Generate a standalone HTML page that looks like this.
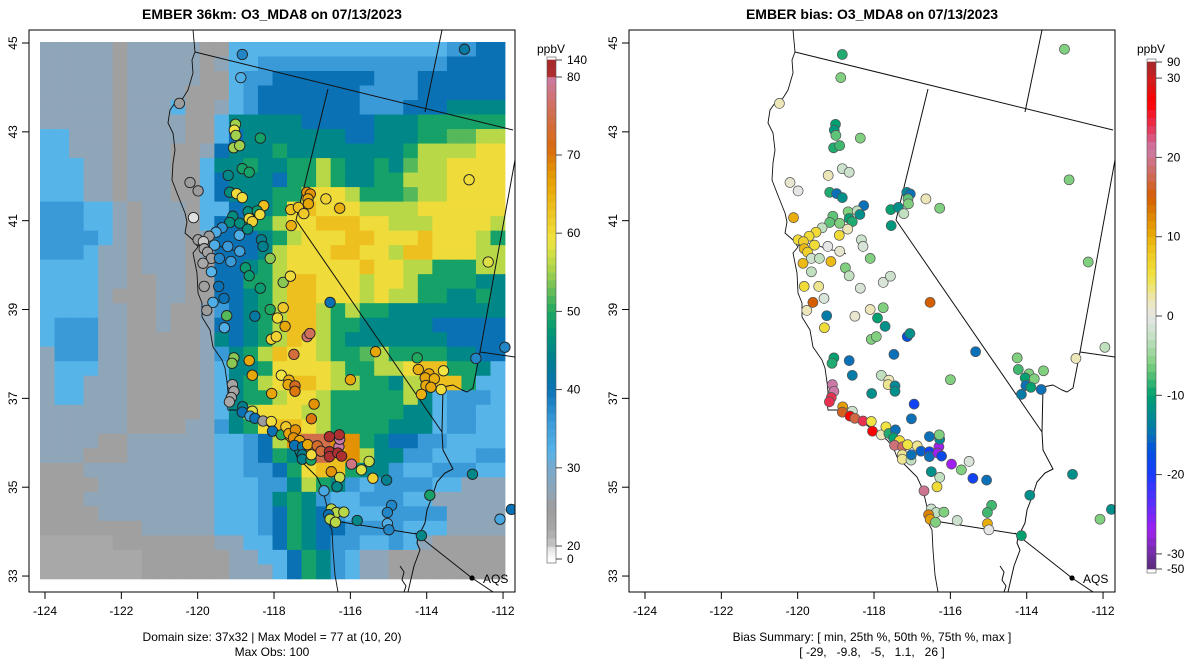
<!DOCTYPE html>
<html><head><meta charset="utf-8"><title>EMBER O3_MDA8</title>
<style>
html,body{margin:0;padding:0;background:#fff;}
svg{display:block;font-family:"Liberation Sans",Arial,sans-serif;}
</style></head>
<body>
<svg id="fig" width="1200" height="672" viewBox="0 0 1200 672" xmlns="http://www.w3.org/2000/svg">
<defs>
<clipPath id="clipL"><rect x="29" y="30" width="486" height="562"/></clipPath>
<clipPath id="clipR"><rect x="629" y="30" width="486" height="562"/></clipPath>
</defs>
<g id="left"></g>
<g id="right"></g>
</svg>
<script>
// ---------- data ----------
const codeValues = {w:22,g:24,h:27,b:32,c:36,d:40,t:45,G:49,m:52,l:56,y:60,Y:63,o:68,p:75};
const gridRows = [
"hhhhhghhhhhggbbbbbbbbbbbbbbbccdd",
"hhhhhghhhhhghbbcccccccccccccdddd",
"hhhhhghhhhhggbccdddddddcccdddddd",
"hhhhhghhhhgggbcdddddddccccdddddd",
"hhhhhghhhbgghbcdddddddcccdddtttt",
"hhhhhghhhhggbtttttdddddtttGGGGGG",
"bbhhhghhhhggbdtttttttddtttGGmmll",
"bbhhhghhhgghdtttGttttttttGllllyy",
"bbbhhghhhggbttGttGGlGttGtmllyyyy",
"bbbhhghhhggbdtttdGGlGttGGlllyyyy",
"bbbhhghhhggbdtttGGyyylGGGmllyyyy",
"cccbbhghhhgbbdttGyYyyyllllyyyyyy",
"cccbbhghhhgbddGGlyyYYYyylllyyyyl",
"ccccbhghhhghdddtGlyyyYYyyyYyyylG",
"cccbhhghhhghdddtlyyyYYyylYYyyyll",
"bbbbhhghhhggddtGlyyyyyYyyllGGGll",
"bbbbhhgghhggddGGlYYyyylyylGGGGtt",
"bbbbhggghhggddtGlYYyyylyllGGttGt",
"bbbbhhgghgghcdtGlYYlGlGGtttttttt",
"bccchhgghgghddtGlYYlGGtttttddddd",
"bccchhggggghtdtGlYylGtttttttdddd",
"hccchhggggghctGlYyylGGmlGGGGttdd",
"hbbbhhggggghbttGyyyylGGllyYYGGtb",
"hbbhhhggggghbtGlyYYyllGGtllYYGbb",
"hbbhhhggggghbtGGlyylGGGGGltbcccb",
"hhhhhhggggghbtlyyyllGGGGGttbccbb",
"hhhhhhgggghhctGyYYylGGGGtttbccbb",
"hhhhgghhhhhhbbcdlopPooGtddccbbbb",
"hhhggghhhhhhbbcdGtYpYoltTccbbbcc",
"ggghhhhhhhhhbbccdGyYYGttcbbcccbb",
"gggghhhhhhhhbbbcctlGtcbccccbbhhh",
"ggghhhhhhhhhbbbctGtcbbcccbbhhhhh",
"gggghhhhhhhhbbbcdGtdcbbbcccchhhh",
"ggggggghhhhhbbbcdGtddccccbbbhhhh",
"wwwwwggggggghhbbdGtdccbbcbhggggg",
"wwwwwwwgggggghhbbdGtcbhhgggggggg",
"wwwwwwwgggggghhhbdGtcbhhgggggggg"
];
const stationLon = [-118.83,-113.01,-118.87,-120.48,-119.01,-119.04,-119.00,-118.36,-119.06,-118.90,-118.83,-118.65,-119.20,-120.20,-119.99,-119.16,-118.98,-118.83,-118.27,-117.14,-117.05,-117.11,-117.10,-116.64,-116.28,-117.56,-117.36,-117.22,-117.55,-120.11,-118.68,-118.44,-118.37,-118.65,-118.57,-119.08,-119.16,-118.90,-119.36,-119.52,-119.70,-119.99,-119.85,-119.56,-119.83,-119.74,-119.21,-118.91,-118.69,-118.90,-119.64,-119.43,-119.86,-119.13,-119.64,-118.33,-118.29,-118.10,-118.75,-118.65,-119.83,-119.45,-119.31,-119.60,-119.76,-118.36,-117.76,-117.57,-116.53,-112.39,-112.89,-118.10,-117.76,-119.24,-118.50,-119.30,-117.91,-117.71,-118.07,-117.94,-117.13,-117.06,-117.48,-115.34,-119.05,-119.10,-118.65,-118.57,-117.81,-117.61,-117.63,-117.45,-117.45,-118.06,-116.00,-114.25,-114.22,-113.94,-114.04,-113.80,-113.56,-114.02,-113.89,-113.62,-114.14,-112.71,-111.95,-119.09,-119.05,-119.12,-119.17,-118.82,-118.83,-118.57,-118.63,-118.50,-118.29,-118.07,-118.04,-117.81,-117.69,-117.61,-117.44,-117.49,-117.33,-117.46,-117.25,-117.12,-117.26,-117.26,-117.03,-117.02,-116.87,-116.77,-116.55,-116.55,-116.30,-116.33,-116.23,-116.28,-116.29,-116.55,-117.02,-116.95,-115.97,-115.51,-115.71,-116.50,-116.28,-116.35,-115.41,-115.05,-116.69,-112.80,-113.92,-116.50,-116.37,-116.17,-116.57,-116.53,-116.39,-115.82,-114.92,-115.03,-115.03,-114.99,-114.14,-112.08,-111.78];
const stationLat = [44.74,44.86,44.22,43.64,43.17,43.04,42.92,42.86,42.64,42.69,42.17,42.09,42.02,41.86,41.67,41.64,41.61,41.52,41.34,41.64,41.60,41.49,41.38,41.49,41.28,41.25,41.30,41.16,40.89,41.07,41.20,41.22,41.14,41.05,40.98,41.10,40.96,40.94,40.84,40.74,40.65,40.57,40.53,40.45,40.37,40.29,40.42,40.67,40.81,40.31,40.15,40.15,40.04,40.08,39.85,40.57,40.42,40.15,39.94,39.76,39.52,39.52,39.25,39.16,38.98,39.48,39.61,39.75,39.16,40.07,41.92,39.00,39.04,38.86,38.85,38.59,38.81,38.62,38.33,38.39,38.39,38.46,37.99,38.05,37.91,37.79,37.85,37.52,37.52,37.41,37.31,37.28,37.16,37.11,37.42,37.91,37.65,37.55,37.46,37.44,37.62,37.29,37.25,37.20,37.09,37.90,38.15,37.31,37.16,37.02,36.92,36.81,36.69,36.71,36.60,36.55,36.49,36.48,36.26,36.18,36.36,36.21,36.29,36.11,36.05,35.94,35.91,35.96,35.73,35.63,35.61,35.73,35.93,35.81,35.80,35.69,35.91,35.77,35.70,36.08,36.18,36.14,36.54,36.87,35.52,35.58,35.39,35.35,35.22,35.01,35.20,35.16,34.92,35.29,34.82,34.51,34.43,34.44,34.38,34.28,34.21,34.25,34.59,34.43,34.18,34.04,33.91,34.28,34.50];
const obsValues = [38,42,33,25,55,59,55,49,55,55,49,49,45,25,25,46,60,60,63,68,68,66,66,61,65,63,63,62,65,18,46,48,60,60,61,46,46,46,37,33,25,24,20,33,22,23,36,33,46,35,24,38,22,36,32,44,44,54,48,48,24,40,40,33,25,48,54,60,40,58,60,50,62,52,42,33,60,66,61,61,77,76,74,66,54,54,66,66,59,65,66,72,70,66,66,50,65,66,66,65,59,66,66,60,65,38,38,23,23,22,22,44,40,58,35,40,25,60,40,50,62,66,68,68,66,40,42,66,44,44,49,60,73,74,85,85,80,90,90,80,85,90,70,68,78,57,58,68,57,45,61,44,34,45,49,56,56,56,40,56,56,45,38,38,33,38,45,34,40];
const biasValues = [-9,-6,-6,2,-10,-11,-7,-6,-9,-8,-2,-2,2,1,0,-9,-15,-12,-15,-13,-15,-7,-6,2,-6,-10,-12,-3,-11,10,-6,-3,-12,-10,-9,-7,-7,-6,-3,6,6,6,7,6,9,7,0,6,2,1,-2,-3,9,9,-3,-2,-1,-6,-6,-3,6,3,-1,15,2,-1,-1,-2,15,-6,-6,2,-6,-14,1,6,-10,-12,-6,-6,-17,-12,-15,-15,-10,-9,-15,-14,-3,2,3,-13,-12,-12,-6,-6,-8,-6,-10,-6,-6,-15,-10,-15,-14,2,-3,21,21,24,24,11,16,-2,27,17,24,5,27,2,5,-9,-15,-10,6,19,18,5,3,3,-3,-15,3,-16,-19,-15,-27,-27,-18,-13,-6,-15,-15,-19,-27,-1,-6,-12,-3,6,-19,-15,20,-12,-12,-2,-3,-6,13,11,-6,-2,-8,-8,10,0,-10,-6,-12];
const xTicks = [-124,-122,-120,-118,-116,-114,-112];
const yTicks = [33,35,37,39,41,43,45];
const cbTicksL = [140,80,70,60,50,40,30,20,0];
const cbTicksR = [90,30,20,10,0,-10,-20,-30,-50];

// ---------- scales ----------
const NS='http://www.w3.org/2000/svg';
const lonToX = lon => 45 + (lon + 124) * 38.17;
const latToY = lat => 43 + (45 - lat) * 44.42;
const gridLon0 = -124.131, gridDLon = 0.3807, gridLat0 = 45.023, gridDLat = 0.3267;

const obsStops = [[0,'#ffffff'],[18,'#e0e0e0'],[20,'#c8c8c8'],[22,'#a8a8a8'],[25,'#9c9c9c'],[27,'#8fa6b8'],[30,'#78a8cc'],[32,'#56b4e9'],[36,'#3a9ad8'],[40,'#0a72b4'],[44,'#00808e'],[47,'#009478'],[50,'#20a860'],[53,'#70c058'],[56,'#b8d848'],[59,'#f0e442'],[63,'#edc020'],[67,'#e69f00'],[71,'#d86a10'],[76,'#d0705a'],[80,'#cc79a7'],[81,'#b03030'],[140,'#a52a2a']];
const biasStops = [[-50,'#5a2a7a'],[-30,'#7030a0'],[-27,'#a020f0'],[-23,'#5030ff'],[-20,'#1a3cff'],[-17,'#0050e0'],[-15,'#0a70b8'],[-13,'#008898'],[-10,'#00a070'],[-8,'#40b870'],[-6,'#80d080'],[-3,'#c0e0c0'],[0,'#e6e6e6'],[2,'#ece6b8'],[5,'#f0e442'],[8,'#f0c820'],[11,'#e69f00'],[15,'#d55e00'],[18,'#d06a60'],[21,'#cc79a7'],[24,'#e83050'],[27,'#ff0000'],[30,'#cc2020'],[90,'#a52a2a']];
function hex(c){return [parseInt(c.substr(1,2),16),parseInt(c.substr(3,2),16),parseInt(c.substr(5,2),16)];}
function colorOf(stops,v){
  if(v<=stops[0][0]) return stops[0][1];
  for(let i=1;i<stops.length;i++){
    if(v<=stops[i][0]){
      const a=stops[i-1],b=stops[i],t=(v-a[0])/(b[0]-a[0]);
      const A=hex(a[1]),B=hex(b[1]);
      return 'rgb('+A.map((x,k)=>Math.round(x+(B[k]-x)*t)).join(',')+')';
    }
  }
  return stops[stops.length-1][1];
}
function cbYL(v){ if(v>=80) return 77-(v-80)/60*17; if(v>=20) return 546-(v-20)*7.82; return 559-v*0.65; }
function cbYR(v){ if(v>30) return 78-(v-30)/60*16; if(v>=-30) return 316-v*7.93; return 554+(-30-v)/20*15; }

function el(tag,attrs,parent){const e=document.createElementNS(NS,tag);for(const k in attrs)e.setAttribute(k,attrs[k]);parent.appendChild(e);return e;}

// ---------- map geometry (panel pixel coords, left panel) ----------
const coast=[[193,30],[195,52],[192,60],[193,73],[188,90],[183,98],[175,103],[170,110],[168,123],[173,133],[175,150],[173,163],[172,180],[177,193],[185,213],[187,222],[185,233],[193,240],[198,247],[193,253],[197,273],[198,293],[202,303],[202,317],[210,330],[213,347],[222,360],[225,368],[227,382],[228,392],[227,402],[228,410],[243,410],[260,420],[277,433],[287,440],[293,447],[297,457],[303,463],[317,477],[323,490],[327,507],[327,520],[332,530],[333,550],[335,575],[338,592]];
const bay=[[198,246],[206,243],[215,244],[224,248],[232,250],[240,251],[246,254]];
const borders=[
 [[195,52],[513,130]],
 [[442,30],[425,112]],
 [[328,89],[296,220],[442,432],[443,450],[453,469],[445,473],[437,482],[432,497],[427,510],[425,523],[418,537],[417,543],[420,550],[414,566],[408,592]],
 [[442,432],[443,387],[453,385],[462,390],[467,392],[473,388],[480,352]],
 [[515,160],[480,352],[515,357]],
 [[328,520],[423,535]],
 [[415,533],[472,578],[520,610]],
 [[400,566],[404,572],[402,580],[406,586],[404,592]]
];

function drawPanel(g, off, clipId, isBias){
  const cg = el('g',{'clip-path':'url(#'+clipId+')'},g);
  
  
  if(!isBias){
    const hg = el('g',{},cg);
    
    
    gridRows.forEach((row,r)=>{
      for(let c=0;c<row.length;c++){
        const ch=row[c]; const v = codeValues[ch] !== undefined ? codeValues[ch] : codeValues[ch.toLowerCase()] || 40;
        const val = (ch==='P')?75:(ch==='T'?45:v);
        const x0=lonToX(gridLon0+c*gridDLon), x1=lonToX(gridLon0+(c+1)*gridDLon);
        const y0=latToY(gridLat0-r*gridDLat), y1=latToY(gridLat0-(r+1)*gridDLat);
        const rc=el('rect',{x:x0.toFixed(2),y:y0.toFixed(2),width:(x1-x0+0.4).toFixed(2),height:(y1-y0+0.4).toFixed(2),fill:colorOf(obsStops,val)},hg);
        
        
      }
    });
  }
  const mapg = el('g',{fill:'none',stroke:'#111','stroke-width':'1','stroke-linejoin':'round'},cg);
  
  
  const pts=a=>a.map(p=>(p[0]+off)+','+p[1]).join(' ');
  const cl=el('polyline',{points:pts(coast),'stroke-width':'0.9'},mapg);
  
  
  el('polyline',{points:pts(bay),'stroke-width':'0.8'},mapg);
  borders.forEach(b=>{
    const l=el('polyline',{points:pts(b)},mapg);
    
    
  });
  const dg = el('g',{},cg);
  
  
  stationLon.forEach((lon,i)=>{
    const v = isBias?biasValues[i]:obsValues[i];
    const c = el('circle',{cx:(lonToX(lon)+off).toFixed(1),cy:latToY(stationLat[i]).toFixed(1),r:isBias?5:5.2,
      fill:colorOf(isBias?biasStops:obsStops,v),stroke:isBias?'#555':'#222','stroke-width':isBias?'0.7':'0.9'},dg);
    
    
  });
  const ad=el('circle',{cx:472+off,cy:578,r:2.6,fill:'#000'},cg);
  
  
  const at=el('text',{x:483+off,y:583,'font-size':'12',fill:'#000'},g);
  at.textContent='AQS';
  
  
  const box=el('rect',{x:29+off,y:30,width:486,height:562,fill:'none',stroke:'#000','stroke-width':'1'},g);
  
  
  const xa=el('g',{},g);
  
  
  xTicks.forEach(t=>{
    const x=lonToX(t)+off;
    el('line',{x1:x,x2:x,y1:592,y2:599,stroke:'#000'},xa);
    const tx=el('text',{x:x,y:615,'font-size':'12','text-anchor':'middle'},xa);
    tx.textContent=String(t);
    
    
  });
  const ya=el('g',{},g);
  
  
  yTicks.forEach(t=>{
    const y=latToY(t);
    el('line',{x1:22+off,x2:29+off,y1:y,y2:y,stroke:'#000'},ya);
    const tx=el('text',{x:17+off,y:y,'font-size':'12','text-anchor':'middle',transform:'rotate(-90 '+(17+off)+' '+y+')'},ya);
    tx.textContent=String(t);
    
    
  });
  const cb=el('g',{},g);
  
  
  const cx=547+off, lo=isBias?-50:0, hi=isBias?90:140, yf=isBias?cbYR:cbYL, st=isBias?biasStops:obsStops;
  let vals=[]; for(let v=lo; v<hi; v+=1){ vals.push(v); }
  vals.forEach(v=>{
    const ya_=yf(v), yb=yf(v+1);
    el('rect',{x:cx,y:Math.min(ya_,yb)-0.3,width:9,height:Math.abs(ya_-yb)+0.6,fill:colorOf(st,v+0.5)},cb);
  });
  el('rect',{x:cx,y:yf(hi)-3,width:9,height:yf(lo)-yf(hi)+7,fill:'none',stroke:'#555','stroke-width':'0.6'},cb);
  (isBias?cbTicksR:cbTicksL).forEach(t=>{
    const y=yf(t);
    el('line',{x1:cx+9,x2:cx+15,y1:y,y2:y,stroke:'#444'},cb);
    const tx=el('text',{x:cx+20,y:y+4,'font-size':'12'},cb);
    tx.textContent=String(t);
    
    
  });
  const u=el('text',{x:cx+4,y:53,'font-size':'12','text-anchor':'middle'},cb);
  u.textContent='ppbV';
  
  
  const ti=el('text',{x:272+off,y:19,'font-size':'14','font-weight':'bold','text-anchor':'middle'},g);
  ti.textContent = isBias?'EMBER bias: O3_MDA8 on 07/13/2023':'EMBER 36km: O3_MDA8 on 07/13/2023';
  
  
  const f1=el('text',{x:272+off,y:641,'font-size':'12','text-anchor':'middle'},g);
  f1.textContent = isBias?'Bias Summary: [ min, 25th %, 50th %, 75th %, max ]':'Domain size: 37x32 | Max Model = 77 at (10, 20)';
  
  
  const f2=el('text',{x:272+off,y:656,'font-size':'12','text-anchor':'middle'},g);
  f2.setAttribute('style','white-space:pre');
  f2.textContent = isBias?'[ -29,   -9.8,   -5,   1.1,   26 ]':'Max Obs: 100';
  
  
}
drawPanel(document.getElementById('left'),0,'clipL',false);
drawPanel(document.getElementById('right'),600,'clipR',true);
</script>
</body></html>
